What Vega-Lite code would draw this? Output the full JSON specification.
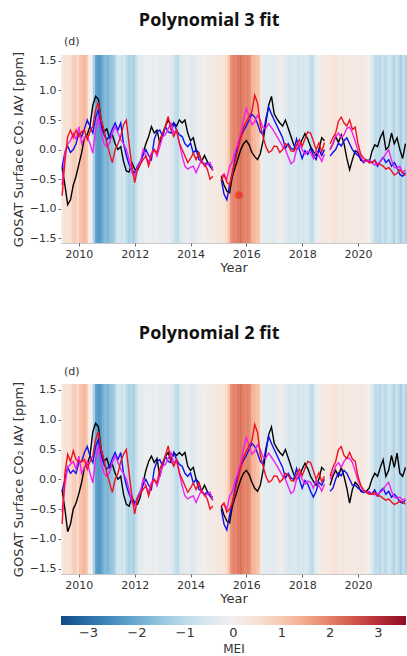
{
"$schema": "https://vega.github.io/schema/vega-lite/v6.json",
"padding": {"left": 11, "top": 11, "right": 0, "bottom": 4},
"background": "white",
"config": {
 "view": {"stroke": "#c8c8c8", "strokeWidth": 1},
 "axis": {"labelFont": "DejaVu Sans", "labelFontSize": 11, "labelColor": "#333", "labelOverlap": false, "titleFont": "DejaVu Sans", "titleFontSize": 13, "titleFontWeight": "normal", "titleColor": "#333", "grid": false, "domain": false, "tickColor": "#666", "tickSize": 3},
 "title": {"font": "Open Sans", "fontSize": 18, "fontWeight": "bold", "color": "#111"}
},
"datasets": {
"mei": [
{"t":2009.333,"t2":2009.433,"mei":0.1},{"t":2009.417,"t2":2009.517,"mei":0.4},{"t":2009.5,"t2":2009.6,"mei":0.5},{"t":2009.583,"t2":2009.683,"mei":0.4},{"t":2009.667,"t2":2009.767,"mei":0.6},{"t":2009.75,"t2":2009.85,"mei":0.9},{"t":2009.833,"t2":2009.933,"mei":1.0},{"t":2009.917,"t2":2010.017,"mei":0.6},
{"t":2010.0,"t2":2010.1,"mei":1.1},{"t":2010.083,"t2":2010.183,"mei":1.2},{"t":2010.167,"t2":2010.267,"mei":1.3},{"t":2010.25,"t2":2010.35,"mei":1.0},{"t":2010.333,"t2":2010.433,"mei":0.1},{"t":2010.417,"t2":2010.517,"mei":-0.1},{"t":2010.5,"t2":2010.6,"mei":-1.3},{"t":2010.583,"t2":2010.683,"mei":-2.2},{"t":2010.667,"t2":2010.767,"mei":-2.3},{"t":2010.75,"t2":2010.85,"mei":-2.2},{"t":2010.833,"t2":2010.933,"mei":-1.9},{"t":2010.917,"t2":2011.017,"mei":-1.7},
{"t":2011.0,"t2":2011.1,"mei":-1.8},{"t":2011.083,"t2":2011.183,"mei":-1.6},{"t":2011.167,"t2":2011.267,"mei":-1.5},{"t":2011.25,"t2":2011.35,"mei":-1.2},{"t":2011.333,"t2":2011.433,"mei":-0.7},{"t":2011.417,"t2":2011.517,"mei":-0.6},{"t":2011.5,"t2":2011.6,"mei":-0.8},{"t":2011.583,"t2":2011.683,"mei":-0.6},{"t":2011.667,"t2":2011.767,"mei":-1.0},{"t":2011.75,"t2":2011.85,"mei":-1.2},{"t":2011.833,"t2":2011.933,"mei":-1.1},{"t":2011.917,"t2":2012.017,"mei":-1.3},
{"t":2012.0,"t2":2012.1,"mei":-0.9},{"t":2012.083,"t2":2012.183,"mei":-0.5},{"t":2012.167,"t2":2012.267,"mei":-0.3},{"t":2012.25,"t2":2012.35,"mei":-0.2},{"t":2012.333,"t2":2012.433,"mei":-0.1},{"t":2012.417,"t2":2012.517,"mei":-0.2},{"t":2012.5,"t2":2012.6,"mei":-0.1},{"t":2012.583,"t2":2012.683,"mei":-0.3},{"t":2012.667,"t2":2012.767,"mei":-0.2},{"t":2012.75,"t2":2012.85,"mei":-0.1},{"t":2012.833,"t2":2012.933,"mei":-0.2},{"t":2012.917,"t2":2013.017,"mei":-0.3},
{"t":2013.0,"t2":2013.1,"mei":-0.2},{"t":2013.083,"t2":2013.183,"mei":-0.3},{"t":2013.167,"t2":2013.267,"mei":-0.2},{"t":2013.25,"t2":2013.35,"mei":-0.4},{"t":2013.333,"t2":2013.433,"mei":-0.6},{"t":2013.417,"t2":2013.517,"mei":-0.9},{"t":2013.5,"t2":2013.6,"mei":-1.0},{"t":2013.583,"t2":2013.683,"mei":-0.6},{"t":2013.667,"t2":2013.767,"mei":-0.4},{"t":2013.75,"t2":2013.85,"mei":-0.3},{"t":2013.833,"t2":2013.933,"mei":-0.2},{"t":2013.917,"t2":2014.017,"mei":-0.3},
{"t":2014.0,"t2":2014.1,"mei":-0.5},{"t":2014.083,"t2":2014.183,"mei":-0.4},{"t":2014.167,"t2":2014.267,"mei":-0.2},{"t":2014.25,"t2":2014.35,"mei":-0.1},{"t":2014.333,"t2":2014.433,"mei":-0.1},{"t":2014.417,"t2":2014.517,"mei":0.0},{"t":2014.5,"t2":2014.6,"mei":-0.1},{"t":2014.583,"t2":2014.683,"mei":0.1},{"t":2014.667,"t2":2014.767,"mei":0.2},{"t":2014.75,"t2":2014.85,"mei":0.1},{"t":2014.833,"t2":2014.933,"mei":0.2},{"t":2014.917,"t2":2015.017,"mei":0.3},
{"t":2015.0,"t2":2015.1,"mei":0.3},{"t":2015.083,"t2":2015.183,"mei":0.3},{"t":2015.167,"t2":2015.267,"mei":0.4},{"t":2015.25,"t2":2015.35,"mei":0.7},{"t":2015.333,"t2":2015.433,"mei":1.1},{"t":2015.417,"t2":2015.517,"mei":1.8},{"t":2015.5,"t2":2015.6,"mei":2.0},{"t":2015.583,"t2":2015.683,"mei":1.9},{"t":2015.667,"t2":2015.767,"mei":2.1},{"t":2015.75,"t2":2015.85,"mei":2.2},{"t":2015.833,"t2":2015.933,"mei":2.0},{"t":2015.917,"t2":2016.017,"mei":1.9},
{"t":2016.0,"t2":2016.1,"mei":2.0},{"t":2016.083,"t2":2016.183,"mei":1.8},{"t":2016.167,"t2":2016.267,"mei":1.4},{"t":2016.25,"t2":2016.35,"mei":1.3},{"t":2016.333,"t2":2016.433,"mei":1.1},{"t":2016.417,"t2":2016.517,"mei":1.0},{"t":2016.5,"t2":2016.6,"mei":-0.1},{"t":2016.583,"t2":2016.683,"mei":-0.3},{"t":2016.667,"t2":2016.767,"mei":-0.4},{"t":2016.75,"t2":2016.85,"mei":-0.3},{"t":2016.833,"t2":2016.933,"mei":-0.3},{"t":2016.917,"t2":2017.017,"mei":-0.4},
{"t":2017.0,"t2":2017.1,"mei":-0.3},{"t":2017.083,"t2":2017.183,"mei":-0.2},{"t":2017.167,"t2":2017.267,"mei":-0.1},{"t":2017.25,"t2":2017.35,"mei":-0.2},{"t":2017.333,"t2":2017.433,"mei":-0.3},{"t":2017.417,"t2":2017.517,"mei":-0.5},{"t":2017.5,"t2":2017.6,"mei":-0.7},{"t":2017.583,"t2":2017.683,"mei":-0.5},{"t":2017.667,"t2":2017.767,"mei":-0.6},{"t":2017.75,"t2":2017.85,"mei":-0.5},{"t":2017.833,"t2":2017.933,"mei":-0.7},{"t":2017.917,"t2":2018.017,"mei":-0.6},
{"t":2018.0,"t2":2018.1,"mei":-0.7},{"t":2018.083,"t2":2018.183,"mei":-0.5},{"t":2018.167,"t2":2018.267,"mei":-0.6},{"t":2018.25,"t2":2018.35,"mei":-0.9},{"t":2018.333,"t2":2018.433,"mei":-1.0},{"t":2018.417,"t2":2018.517,"mei":-0.4},{"t":2018.5,"t2":2018.6,"mei":-0.2},{"t":2018.583,"t2":2018.683,"mei":0.1},{"t":2018.667,"t2":2018.767,"mei":0.3},{"t":2018.75,"t2":2018.85,"mei":0.2},{"t":2018.833,"t2":2018.933,"mei":0.3},{"t":2018.917,"t2":2019.017,"mei":0.2},
{"t":2019.0,"t2":2019.1,"mei":0.3},{"t":2019.083,"t2":2019.183,"mei":0.5},{"t":2019.167,"t2":2019.267,"mei":0.4},{"t":2019.25,"t2":2019.35,"mei":0.3},{"t":2019.333,"t2":2019.433,"mei":0.2},{"t":2019.417,"t2":2019.517,"mei":0.3},{"t":2019.5,"t2":2019.6,"mei":0.2},{"t":2019.583,"t2":2019.683,"mei":0.3},{"t":2019.667,"t2":2019.767,"mei":0.2},{"t":2019.75,"t2":2019.85,"mei":0.3},{"t":2019.833,"t2":2019.933,"mei":0.2},{"t":2019.917,"t2":2020.017,"mei":0.3},
{"t":2020.0,"t2":2020.1,"mei":0.2},{"t":2020.083,"t2":2020.183,"mei":0.3},{"t":2020.167,"t2":2020.267,"mei":0.2},{"t":2020.25,"t2":2020.35,"mei":0.1},{"t":2020.333,"t2":2020.433,"mei":0.0},{"t":2020.417,"t2":2020.517,"mei":-0.3},{"t":2020.5,"t2":2020.6,"mei":-0.7},{"t":2020.583,"t2":2020.683,"mei":-1.0},{"t":2020.667,"t2":2020.767,"mei":-0.9},{"t":2020.75,"t2":2020.85,"mei":-1.1},{"t":2020.833,"t2":2020.933,"mei":-0.8},{"t":2020.917,"t2":2021.017,"mei":-1.0},
{"t":2021.0,"t2":2021.1,"mei":-0.9},{"t":2021.083,"t2":2021.183,"mei":-0.7},{"t":2021.167,"t2":2021.267,"mei":-0.9},{"t":2021.25,"t2":2021.35,"mei":-1.2},{"t":2021.333,"t2":2021.433,"mei":-0.8},{"t":2021.417,"t2":2021.517,"mei":-1.0},{"t":2021.5,"t2":2021.6,"mei":-1.3},{"t":2021.583,"t2":2021.683,"mei":-0.9},{"t":2021.667,"t2":2021.767,"mei":-1.1}
],
"p3": [
{"t":2009.4,"g":1,"K":-0.30,"B":-0.30,"R":-0.78,"M":-0.60},
{"t":2009.5,"g":1,"K":-0.60,"B":-0.05,"R":-0.20,"M":-0.05},
{"t":2009.6,"g":1,"K":-0.93,"B":0.06,"R":0.22,"M":0.10},
{"t":2009.7,"g":1,"K":-0.85,"B":-0.05,"R":0.33,"M":0.15},
{"t":2009.8,"g":1,"K":-0.60,"B":0.00,"R":0.20,"M":0.28},
{"t":2009.9,"g":1,"K":-0.45,"B":0.10,"R":0.33,"M":0.17},
{"t":2010.0,"g":1,"K":-0.25,"B":0.28,"R":0.22,"M":0.39},
{"t":2010.1,"g":1,"K":-0.05,"B":0.22,"R":0.30,"M":0.10},
{"t":2010.2,"g":1,"K":0.20,"B":0.35,"R":0.33,"M":0.20},
{"t":2010.3,"g":1,"K":0.25,"B":0.50,"R":0.17,"M":0.22},
{"t":2010.4,"g":1,"K":0.40,"B":0.39,"R":0.30,"M":0.10},
{"t":2010.5,"g":1,"K":0.75,"B":0.28,"R":0.40,"M":-0.06},
{"t":2010.6,"g":1,"K":0.90,"B":0.55,"R":0.67,"M":0.33},
{"t":2010.7,"g":1,"K":0.85,"B":0.67,"R":0.80,"M":0.56},
{"t":2010.8,"g":1,"K":0.50,"B":0.39,"R":0.50,"M":0.28},
{"t":2010.9,"g":1,"K":0.30,"B":0.25,"R":0.33,"M":0.10},
{"t":2011.0,"g":1,"K":0.35,"B":0.17,"R":0.11,"M":0.05},
{"t":2011.1,"g":1,"K":0.20,"B":0.22,"R":-0.06,"M":0.11},
{"t":2011.2,"g":1,"K":0.25,"B":0.35,"R":-0.22,"M":0.28},
{"t":2011.3,"g":1,"K":0.10,"B":0.45,"R":0.00,"M":0.39},
{"t":2011.4,"g":1,"K":0.00,"B":0.33,"R":0.10,"M":0.28},
{"t":2011.5,"g":1,"K":0.05,"B":0.45,"R":0.22,"M":0.17},
{"t":2011.6,"g":1,"K":-0.20,"B":0.10,"R":0.42,"M":0.10},
{"t":2011.7,"g":1,"K":-0.36,"B":-0.10,"R":0.50,"M":0.00},
{"t":2011.8,"g":1,"K":-0.38,"B":-0.25,"R":0.10,"M":-0.17},
{"t":2011.9,"g":1,"K":-0.22,"B":-0.35,"R":-0.28,"M":-0.39},
{"t":2012.0,"g":1,"K":-0.33,"B":-0.39,"R":-0.56,"M":-0.45},
{"t":2012.1,"g":1,"K":-0.35,"B":-0.28,"R":-0.33,"M":-0.30},
{"t":2012.2,"g":1,"K":-0.25,"B":-0.20,"R":-0.25,"M":-0.22},
{"t":2012.3,"g":1,"K":-0.06,"B":-0.10,"R":-0.17,"M":0.00},
{"t":2012.4,"g":1,"K":0.10,"B":0.00,"R":-0.11,"M":-0.11},
{"t":2012.5,"g":1,"K":0.22,"B":-0.10,"R":-0.28,"M":-0.22},
{"t":2012.6,"g":1,"K":0.39,"B":-0.17,"R":-0.10,"M":-0.05},
{"t":2012.7,"g":1,"K":0.28,"B":0.17,"R":0.00,"M":0.00},
{"t":2012.8,"g":1,"K":0.33,"B":0.30,"R":-0.06,"M":-0.11},
{"t":2012.9,"g":1,"K":0.11,"B":0.33,"R":0.17,"M":0.05},
{"t":2013.0,"g":1,"K":0.25,"B":0.22,"R":0.28,"M":0.22},
{"t":2013.1,"g":1,"K":0.39,"B":0.39,"R":0.40,"M":0.25},
{"t":2013.2,"g":1,"K":0.50,"B":0.30,"R":0.56,"M":0.35},
{"t":2013.3,"g":1,"K":0.40,"B":0.28,"R":0.33,"M":0.45},
{"t":2013.4,"g":1,"K":0.45,"B":0.45,"R":0.22,"M":0.28},
{"t":2013.5,"g":1,"K":0.40,"B":0.33,"R":0.33,"M":0.33},
{"t":2013.6,"g":1,"K":0.50,"B":0.25,"R":0.11,"M":0.11},
{"t":2013.7,"g":1,"K":0.45,"B":0.22,"R":0.00,"M":-0.11},
{"t":2013.8,"g":1,"K":0.50,"B":0.10,"R":-0.11,"M":-0.28},
{"t":2013.9,"g":1,"K":0.28,"B":0.05,"R":-0.22,"M":-0.33},
{"t":2014.0,"g":1,"K":0.15,"B":0.11,"R":-0.15,"M":-0.30},
{"t":2014.1,"g":1,"K":0.20,"B":-0.06,"R":-0.06,"M":-0.28},
{"t":2014.2,"g":1,"K":0.00,"B":0.00,"R":-0.17,"M":-0.39},
{"t":2014.3,"g":1,"K":-0.06,"B":-0.17,"R":-0.06,"M":-0.28},
{"t":2014.4,"g":1,"K":-0.20,"B":-0.20,"R":-0.22,"M":-0.17},
{"t":2014.5,"g":1,"K":-0.10,"B":-0.25,"R":-0.25,"M":-0.28},
{"t":2014.6,"g":1,"K":-0.20,"B":-0.22,"R":-0.33,"M":-0.25},
{"t":2014.7,"g":1,"K":-0.28,"B":-0.28,"R":-0.50,"M":-0.22},
{"t":2014.8,"g":1,"K":-0.35,"B":-0.30,"R":-0.45,"M":-0.35},
{"t":2015.1,"g":2,"K":-0.45,"B":-0.50,"R":-0.53,"M":-0.45},
{"t":2015.2,"g":2,"K":-0.60,"B":-0.75,"R":-0.42,"M":-0.42},
{"t":2015.3,"g":2,"K":-0.70,"B":-0.85,"R":-0.55,"M":-0.50},
{"t":2015.4,"g":2,"K":-0.73,"B":-0.60,"R":-0.60,"M":-0.28},
{"t":2015.5,"g":2,"K":-0.45,"B":-0.40,"R":-0.40,"M":-0.20},
{"t":2015.6,"g":2,"K":-0.30,"B":-0.15,"R":-0.20,"M":-0.03},
{"t":2015.7,"g":2,"K":-0.15,"B":0.10,"R":0.00,"M":0.10},
{"t":2015.8,"g":2,"K":0.00,"B":0.22,"R":0.20,"M":0.28},
{"t":2015.9,"g":2,"K":0.10,"B":0.32,"R":0.38,"M":0.50},
{"t":2016.0,"g":2,"K":0.15,"B":0.40,"R":0.47,"M":0.70},
{"t":2016.1,"g":2,"K":0.08,"B":0.50,"R":0.56,"M":0.56},
{"t":2016.2,"g":2,"K":-0.05,"B":0.60,"R":0.65,"M":0.42},
{"t":2016.3,"g":2,"K":-0.12,"B":0.55,"R":0.92,"M":0.47},
{"t":2016.4,"g":2,"K":-0.17,"B":0.44,"R":0.79,"M":0.58},
{"t":2016.5,"g":2,"K":-0.07,"B":0.30,"R":0.42,"M":0.50},
{"t":2016.6,"g":2,"K":0.15,"B":0.25,"R":0.22,"M":0.37},
{"t":2016.7,"g":2,"K":0.45,"B":0.52,"R":0.05,"M":0.36},
{"t":2016.8,"g":2,"K":0.75,"B":0.72,"R":-0.05,"M":0.44},
{"t":2016.9,"g":2,"K":0.90,"B":0.60,"R":-0.02,"M":0.37},
{"t":2017.0,"g":2,"K":0.60,"B":0.50,"R":0.06,"M":0.30},
{"t":2017.1,"g":2,"K":0.52,"B":0.40,"R":0.05,"M":0.22},
{"t":2017.2,"g":2,"K":0.45,"B":0.30,"R":-0.05,"M":0.14},
{"t":2017.3,"g":2,"K":0.40,"B":0.20,"R":0.00,"M":0.05},
{"t":2017.4,"g":2,"K":0.50,"B":0.02,"R":0.10,"M":0.00},
{"t":2017.5,"g":2,"K":0.36,"B":0.10,"R":0.07,"M":-0.12},
{"t":2017.6,"g":2,"K":0.22,"B":0.02,"R":-0.02,"M":-0.24},
{"t":2017.7,"g":2,"K":0.08,"B":0.00,"R":-0.03,"M":-0.20},
{"t":2017.8,"g":2,"K":0.00,"B":0.18,"R":0.08,"M":0.00},
{"t":2017.9,"g":2,"K":0.07,"B":0.00,"R":0.17,"M":0.10},
{"t":2018.0,"g":2,"K":0.17,"B":-0.15,"R":0.06,"M":0.00},
{"t":2018.1,"g":2,"K":0.27,"B":-0.02,"R":0.18,"M":-0.08},
{"t":2018.2,"g":2,"K":0.18,"B":-0.08,"R":0.30,"M":-0.03},
{"t":2018.3,"g":2,"K":0.05,"B":0.02,"R":0.28,"M":-0.05},
{"t":2018.4,"g":2,"K":-0.03,"B":-0.10,"R":0.15,"M":-0.15},
{"t":2018.5,"g":2,"K":-0.10,"B":-0.17,"R":0.00,"M":-0.02},
{"t":2018.6,"g":2,"K":0.00,"B":0.00,"R":0.11,"M":-0.10},
{"t":2018.7,"g":2,"K":0.20,"B":-0.10,"R":-0.04,"M":-0.20},
{"t":2018.8,"g":2,"K":0.15,"B":0.00,"R":0.12,"M":-0.08},
{"t":2019.0,"g":3,"K":0.00,"B":-0.11,"R":0.10,"M":0.00},
{"t":2019.1,"g":3,"K":0.10,"B":-0.05,"R":0.20,"M":0.10},
{"t":2019.2,"g":3,"K":0.22,"B":0.00,"R":0.28,"M":0.22},
{"t":2019.3,"g":3,"K":0.12,"B":0.11,"R":0.48,"M":0.28},
{"t":2019.4,"g":3,"K":0.25,"B":0.06,"R":0.55,"M":0.20},
{"t":2019.5,"g":3,"K":0.10,"B":0.15,"R":0.45,"M":0.25},
{"t":2019.6,"g":3,"K":-0.15,"B":0.20,"R":0.40,"M":0.36},
{"t":2019.7,"g":3,"K":-0.34,"B":0.10,"R":0.50,"M":0.38},
{"t":2019.8,"g":3,"K":-0.17,"B":0.00,"R":0.34,"M":0.28},
{"t":2019.9,"g":3,"K":-0.02,"B":-0.06,"R":0.38,"M":0.14},
{"t":2020.0,"g":3,"K":-0.05,"B":-0.10,"R":0.10,"M":-0.02},
{"t":2020.1,"g":3,"K":-0.18,"B":-0.15,"R":-0.08,"M":-0.12},
{"t":2020.2,"g":3,"K":-0.20,"B":-0.22,"R":-0.14,"M":-0.20},
{"t":2020.3,"g":3,"K":-0.18,"B":-0.18,"R":-0.18,"M":-0.20},
{"t":2020.4,"g":3,"K":-0.22,"B":-0.18,"R":-0.22,"M":-0.18},
{"t":2020.5,"g":3,"K":-0.03,"B":-0.22,"R":-0.22,"M":-0.22},
{"t":2020.6,"g":3,"K":0.08,"B":-0.18,"R":-0.18,"M":-0.26},
{"t":2020.7,"g":3,"K":0.05,"B":-0.28,"R":-0.25,"M":-0.25},
{"t":2020.8,"g":3,"K":0.20,"B":-0.20,"R":-0.25,"M":-0.20},
{"t":2020.9,"g":3,"K":0.30,"B":-0.13,"R":-0.28,"M":-0.15},
{"t":2021.0,"g":3,"K":0.00,"B":-0.22,"R":-0.33,"M":-0.07},
{"t":2021.1,"g":3,"K":0.05,"B":-0.17,"R":-0.30,"M":0.00},
{"t":2021.2,"g":3,"K":0.28,"B":-0.28,"R":-0.36,"M":-0.18},
{"t":2021.3,"g":3,"K":0.10,"B":-0.22,"R":-0.43,"M":-0.30},
{"t":2021.4,"g":3,"K":0.20,"B":-0.30,"R":-0.40,"M":-0.32},
{"t":2021.5,"g":3,"K":0.00,"B":-0.42,"R":-0.34,"M":-0.28},
{"t":2021.6,"g":3,"K":-0.15,"B":-0.45,"R":-0.39,"M":-0.39},
{"t":2021.7,"g":3,"K":0.10,"B":-0.39,"R":-0.44,"M":-0.34}
],
"p2": [
{"t":2009.4,"g":1,"K":-0.18,"B":-0.20,"R":-0.75,"M":-0.55},
{"t":2009.5,"g":1,"K":-0.50,"B":0.00,"R":0.10,"M":-0.10},
{"t":2009.6,"g":1,"K":-0.88,"B":0.20,"R":0.42,"M":0.20},
{"t":2009.7,"g":1,"K":-0.75,"B":0.10,"R":0.30,"M":0.25},
{"t":2009.8,"g":1,"K":-0.50,"B":0.15,"R":0.48,"M":0.30},
{"t":2009.9,"g":1,"K":-0.40,"B":0.10,"R":0.33,"M":0.17},
{"t":2010.0,"g":1,"K":-0.24,"B":0.28,"R":0.30,"M":0.39},
{"t":2010.1,"g":1,"K":-0.05,"B":0.30,"R":0.30,"M":0.10},
{"t":2010.2,"g":1,"K":0.20,"B":0.45,"R":0.33,"M":0.20},
{"t":2010.3,"g":1,"K":0.25,"B":0.55,"R":0.17,"M":0.30},
{"t":2010.4,"g":1,"K":0.40,"B":0.39,"R":0.30,"M":0.10},
{"t":2010.5,"g":1,"K":0.80,"B":0.28,"R":0.40,"M":-0.06},
{"t":2010.6,"g":1,"K":0.94,"B":0.55,"R":0.67,"M":0.33},
{"t":2010.7,"g":1,"K":0.88,"B":0.67,"R":0.80,"M":0.56},
{"t":2010.8,"g":1,"K":0.50,"B":0.39,"R":0.50,"M":0.28},
{"t":2010.9,"g":1,"K":0.30,"B":0.25,"R":0.33,"M":0.10},
{"t":2011.0,"g":1,"K":0.35,"B":0.17,"R":0.11,"M":0.05},
{"t":2011.1,"g":1,"K":0.20,"B":0.22,"R":-0.06,"M":0.11},
{"t":2011.2,"g":1,"K":0.25,"B":0.35,"R":-0.22,"M":0.28},
{"t":2011.3,"g":1,"K":0.10,"B":0.45,"R":0.00,"M":0.39},
{"t":2011.4,"g":1,"K":0.00,"B":0.33,"R":0.10,"M":0.28},
{"t":2011.5,"g":1,"K":0.05,"B":0.45,"R":0.30,"M":0.17},
{"t":2011.6,"g":1,"K":-0.25,"B":0.10,"R":0.42,"M":0.10},
{"t":2011.7,"g":1,"K":-0.42,"B":-0.10,"R":0.50,"M":0.00},
{"t":2011.8,"g":1,"K":-0.45,"B":-0.25,"R":0.10,"M":-0.17},
{"t":2011.9,"g":1,"K":-0.30,"B":-0.35,"R":-0.28,"M":-0.39},
{"t":2012.0,"g":1,"K":-0.40,"B":-0.42,"R":-0.58,"M":-0.45},
{"t":2012.1,"g":1,"K":-0.42,"B":-0.30,"R":-0.33,"M":-0.30},
{"t":2012.2,"g":1,"K":-0.30,"B":-0.20,"R":-0.25,"M":-0.22},
{"t":2012.3,"g":1,"K":-0.06,"B":-0.10,"R":-0.17,"M":0.00},
{"t":2012.4,"g":1,"K":0.15,"B":0.00,"R":-0.11,"M":-0.11},
{"t":2012.5,"g":1,"K":0.30,"B":-0.10,"R":-0.28,"M":-0.22},
{"t":2012.6,"g":1,"K":0.39,"B":-0.17,"R":-0.10,"M":-0.05},
{"t":2012.7,"g":1,"K":0.28,"B":0.17,"R":0.00,"M":0.00},
{"t":2012.8,"g":1,"K":0.35,"B":0.30,"R":-0.06,"M":-0.11},
{"t":2012.9,"g":1,"K":0.05,"B":0.33,"R":0.17,"M":0.05},
{"t":2013.0,"g":1,"K":0.25,"B":0.22,"R":0.28,"M":0.22},
{"t":2013.1,"g":1,"K":0.39,"B":0.39,"R":0.40,"M":0.25},
{"t":2013.2,"g":1,"K":0.45,"B":0.30,"R":0.56,"M":0.35},
{"t":2013.3,"g":1,"K":0.30,"B":0.28,"R":0.33,"M":0.45},
{"t":2013.4,"g":1,"K":0.45,"B":0.45,"R":0.22,"M":0.28},
{"t":2013.5,"g":1,"K":0.40,"B":0.33,"R":0.33,"M":0.33},
{"t":2013.6,"g":1,"K":0.45,"B":0.25,"R":0.11,"M":0.11},
{"t":2013.7,"g":1,"K":0.40,"B":0.22,"R":0.00,"M":-0.11},
{"t":2013.8,"g":1,"K":0.45,"B":0.10,"R":-0.11,"M":-0.28},
{"t":2013.9,"g":1,"K":0.22,"B":0.05,"R":-0.22,"M":-0.33},
{"t":2014.0,"g":1,"K":0.15,"B":0.11,"R":-0.15,"M":-0.30},
{"t":2014.1,"g":1,"K":0.20,"B":-0.06,"R":-0.06,"M":-0.28},
{"t":2014.2,"g":1,"K":0.00,"B":0.00,"R":-0.17,"M":-0.39},
{"t":2014.3,"g":1,"K":-0.06,"B":-0.17,"R":-0.06,"M":-0.28},
{"t":2014.4,"g":1,"K":-0.20,"B":-0.20,"R":-0.22,"M":-0.17},
{"t":2014.5,"g":1,"K":-0.10,"B":-0.25,"R":-0.25,"M":-0.28},
{"t":2014.6,"g":1,"K":-0.20,"B":-0.22,"R":-0.33,"M":-0.25},
{"t":2014.7,"g":1,"K":-0.28,"B":-0.28,"R":-0.50,"M":-0.22},
{"t":2014.8,"g":1,"K":-0.35,"B":-0.30,"R":-0.45,"M":-0.35},
{"t":2015.1,"g":2,"K":-0.45,"B":-0.50,"R":-0.45,"M":-0.45},
{"t":2015.2,"g":2,"K":-0.60,"B":-0.75,"R":-0.40,"M":-0.42},
{"t":2015.3,"g":2,"K":-0.70,"B":-0.85,"R":-0.55,"M":-0.50},
{"t":2015.4,"g":2,"K":-0.73,"B":-0.60,"R":-0.50,"M":-0.28},
{"t":2015.5,"g":2,"K":-0.45,"B":-0.40,"R":-0.40,"M":-0.20},
{"t":2015.6,"g":2,"K":-0.30,"B":-0.15,"R":-0.20,"M":-0.03},
{"t":2015.7,"g":2,"K":-0.15,"B":0.10,"R":0.00,"M":0.10},
{"t":2015.8,"g":2,"K":0.00,"B":0.22,"R":0.20,"M":0.28},
{"t":2015.9,"g":2,"K":0.10,"B":0.32,"R":0.38,"M":0.50},
{"t":2016.0,"g":2,"K":0.15,"B":0.40,"R":0.47,"M":0.70},
{"t":2016.1,"g":2,"K":0.08,"B":0.50,"R":0.56,"M":0.56},
{"t":2016.2,"g":2,"K":-0.05,"B":0.60,"R":0.65,"M":0.42},
{"t":2016.3,"g":2,"K":-0.15,"B":0.55,"R":0.92,"M":0.47},
{"t":2016.4,"g":2,"K":-0.20,"B":0.44,"R":0.79,"M":0.58},
{"t":2016.5,"g":2,"K":-0.10,"B":0.30,"R":0.42,"M":0.50},
{"t":2016.6,"g":2,"K":0.15,"B":0.25,"R":0.22,"M":0.37},
{"t":2016.7,"g":2,"K":0.45,"B":0.52,"R":0.05,"M":0.36},
{"t":2016.8,"g":2,"K":0.75,"B":0.72,"R":-0.05,"M":0.44},
{"t":2016.9,"g":2,"K":0.88,"B":0.60,"R":-0.02,"M":0.37},
{"t":2017.0,"g":2,"K":0.60,"B":0.50,"R":0.06,"M":0.30},
{"t":2017.1,"g":2,"K":0.52,"B":0.40,"R":0.05,"M":0.22},
{"t":2017.2,"g":2,"K":0.45,"B":0.30,"R":-0.05,"M":0.14},
{"t":2017.3,"g":2,"K":0.40,"B":0.20,"R":0.00,"M":0.05},
{"t":2017.4,"g":2,"K":0.50,"B":0.02,"R":0.10,"M":0.00},
{"t":2017.5,"g":2,"K":0.36,"B":0.10,"R":0.07,"M":-0.12},
{"t":2017.6,"g":2,"K":0.22,"B":0.02,"R":-0.02,"M":-0.24},
{"t":2017.7,"g":2,"K":0.08,"B":0.00,"R":-0.03,"M":-0.20},
{"t":2017.8,"g":2,"K":0.00,"B":0.18,"R":0.08,"M":0.00},
{"t":2017.9,"g":2,"K":0.07,"B":0.00,"R":0.17,"M":0.10},
{"t":2018.0,"g":2,"K":0.17,"B":-0.15,"R":0.06,"M":0.00},
{"t":2018.1,"g":2,"K":0.27,"B":-0.02,"R":0.18,"M":-0.08},
{"t":2018.2,"g":2,"K":0.18,"B":-0.08,"R":0.30,"M":-0.03},
{"t":2018.3,"g":2,"K":0.05,"B":-0.20,"R":0.28,"M":-0.05},
{"t":2018.4,"g":2,"K":-0.03,"B":-0.30,"R":0.15,"M":-0.15},
{"t":2018.5,"g":2,"K":-0.10,"B":-0.20,"R":0.00,"M":-0.02},
{"t":2018.6,"g":2,"K":0.00,"B":-0.05,"R":0.11,"M":-0.10},
{"t":2018.7,"g":2,"K":0.20,"B":-0.10,"R":-0.04,"M":-0.20},
{"t":2018.8,"g":2,"K":0.15,"B":0.00,"R":0.05,"M":-0.08},
{"t":2019.0,"g":3,"K":-0.10,"B":-0.20,"R":0.05,"M":0.00},
{"t":2019.1,"g":3,"K":0.05,"B":-0.15,"R":0.20,"M":0.10},
{"t":2019.2,"g":3,"K":0.15,"B":0.00,"R":0.30,"M":0.22},
{"t":2019.3,"g":3,"K":0.05,"B":0.11,"R":0.50,"M":0.28},
{"t":2019.4,"g":3,"K":0.20,"B":0.06,"R":0.55,"M":0.20},
{"t":2019.5,"g":3,"K":0.05,"B":0.15,"R":0.40,"M":0.30},
{"t":2019.6,"g":3,"K":-0.15,"B":0.10,"R":0.35,"M":0.36},
{"t":2019.7,"g":3,"K":-0.40,"B":0.00,"R":0.45,"M":0.35},
{"t":2019.8,"g":3,"K":-0.17,"B":-0.10,"R":0.34,"M":0.28},
{"t":2019.9,"g":3,"K":-0.05,"B":-0.10,"R":0.30,"M":0.14},
{"t":2020.0,"g":3,"K":-0.10,"B":-0.15,"R":0.05,"M":-0.02},
{"t":2020.1,"g":3,"K":-0.20,"B":-0.18,"R":-0.10,"M":-0.12},
{"t":2020.2,"g":3,"K":-0.22,"B":-0.22,"R":-0.18,"M":-0.20},
{"t":2020.3,"g":3,"K":-0.20,"B":-0.20,"R":-0.22,"M":-0.22},
{"t":2020.4,"g":3,"K":-0.15,"B":-0.22,"R":-0.25,"M":-0.20},
{"t":2020.5,"g":3,"K":0.00,"B":-0.25,"R":-0.25,"M":-0.24},
{"t":2020.6,"g":3,"K":0.10,"B":-0.18,"R":-0.22,"M":-0.26},
{"t":2020.7,"g":3,"K":0.05,"B":-0.28,"R":-0.28,"M":-0.25},
{"t":2020.8,"g":3,"K":0.20,"B":-0.20,"R":-0.28,"M":-0.22},
{"t":2020.9,"g":3,"K":0.33,"B":-0.15,"R":-0.32,"M":-0.18},
{"t":2021.0,"g":3,"K":0.05,"B":-0.25,"R":-0.35,"M":-0.10},
{"t":2021.1,"g":3,"K":0.15,"B":-0.20,"R":-0.33,"M":-0.05},
{"t":2021.2,"g":3,"K":0.40,"B":-0.30,"R":-0.38,"M":-0.20},
{"t":2021.3,"g":3,"K":0.20,"B":-0.25,"R":-0.42,"M":-0.30},
{"t":2021.4,"g":3,"K":0.44,"B":-0.30,"R":-0.40,"M":-0.32},
{"t":2021.5,"g":3,"K":0.10,"B":-0.38,"R":-0.36,"M":-0.30},
{"t":2021.6,"g":3,"K":0.05,"B":-0.40,"R":-0.38,"M":-0.35},
{"t":2021.7,"g":3,"K":0.20,"B":-0.35,"R":-0.42,"M":-0.32}
],
"dot": [{"t":2015.74,"v":-0.77}]
},
"vconcat": [
 {
  "title": {"text": "Polynomial 3 fit", "anchor": "middle", "offset": 6},
  "vconcat": [
   {
    "title": {"text": "(d)", "anchor": "start", "frame": "group", "font": "DejaVu Sans", "fontSize": 11, "fontWeight": "normal", "color": "#333", "offset": 4, "dx": 3},
    "width": 345, "height": 188,
    "layer": [
     {"data": {"name": "mei"}, "mark": {"type": "rect", "clip": true},
      "encoding": {
       "x": {"field": "t", "type": "quantitative", "scale": {"domain": [2009.36, 2021.72], "nice": false, "zero": false},
             "axis": {"values": [2010,2012,2014,2016,2018,2020], "format": "d", "title": "Year", "labelPadding": 2, "titlePadding": 2}},
       "x2": {"field": "t2"},
       "color": {"field": "mei", "type": "quantitative", "scale": {"scheme": "redblue", "reverse": true, "domain": [-3.57, 3.57]},
                 "legend": {"orient": "none", "direction": "horizontal", "legendX": 0, "legendY": 561, "gradientLength": 345, "gradientThickness": 9, "title": "MEI", "titleOrient": "bottom", "titleAnchor": "middle", "titleFont": "DejaVu Sans", "titleFontSize": 12, "titleFontWeight": "normal", "titleColor": "#333", "titlePadding": 4, "labelFont": "DejaVu Sans", "labelFontSize": 13, "labelColor": "#333", "labelOffset": 2, "values": [-3,-2,-1,0,1,2,3], "gradientStrokeWidth": 0}}
      }},
     {"data": {"name": "p3"}, "transform": [{"fold": ["K","B","M","R"], "as": ["s","v"]}],
      "mark": {"type": "line", "strokeWidth": 1.4, "clip": true},
      "encoding": {
       "x": {"field": "t", "type": "quantitative"},
       "y": {"field": "v", "type": "quantitative", "scale": {"domain": [-1.58, 1.6], "nice": false, "zero": false},
             "axis": {"values": [-1.5,-1,-0.5,0,0.5,1,1.5], "format": ".1f", "title": "GOSAT Surface CO₂ IAV [ppm]", "titlePadding": 4, "labelOverlap": false}},
       "stroke": {"field": "s", "type": "nominal", "scale": {"domain": ["K","B","M","R"], "range": ["#000000","#1010f0","#f020f0","#f01020"]}, "legend": null},
       "detail": {"field": "g"}
      }},
     {"data": {"name": "dot"}, "mark": {"type": "circle", "color": "#e8402e", "opacity": 0.9, "size": 60},
      "encoding": {"x": {"field": "t", "type": "quantitative"},
                   "y": {"field": "v", "type": "quantitative", "axis": {"values": [-1.5,-1,-0.5,0,0.5,1,1.5], "format": ".1f", "title": "GOSAT Surface CO₂ IAV [ppm]", "titlePadding": 4, "labelOverlap": false}}}}
    ]
   }
  ]
 },
 {
  "title": {"text": "Polynomial 2 fit", "anchor": "middle", "offset": 23},
  "vconcat": [
   {
    "title": {"text": "(d)", "anchor": "start", "frame": "group", "font": "DejaVu Sans", "fontSize": 11, "fontWeight": "normal", "color": "#333", "offset": 4, "dx": 3},
    "width": 345, "height": 190,
    "layer": [
     {"data": {"name": "mei"}, "mark": {"type": "rect", "clip": true},
      "encoding": {
       "x": {"field": "t", "type": "quantitative", "scale": {"domain": [2009.36, 2021.72], "nice": false, "zero": false},
             "axis": {"values": [2010,2012,2014,2016,2018,2020], "format": "d", "title": "Year", "labelPadding": 2, "titlePadding": 2}},
       "x2": {"field": "t2"},
       "color": {"field": "mei", "type": "quantitative"}
      }},
     {"data": {"name": "p2"}, "transform": [{"fold": ["K","B","M","R"], "as": ["s","v"]}],
      "mark": {"type": "line", "strokeWidth": 1.4, "clip": true},
      "encoding": {
       "x": {"field": "t", "type": "quantitative"},
       "y": {"field": "v", "type": "quantitative", "scale": {"domain": [-1.59, 1.6], "nice": false, "zero": false},
             "axis": {"values": [-1.5,-1,-0.5,0,0.5,1,1.5], "format": ".1f", "title": "GOSAT Surface CO₂ IAV [ppm]", "titlePadding": 4, "labelOverlap": false}},
       "stroke": {"field": "s", "type": "nominal"},
       "detail": {"field": "g"}
      }}
    ]
   }
  ]
 }
],
"spacing": 49
}
